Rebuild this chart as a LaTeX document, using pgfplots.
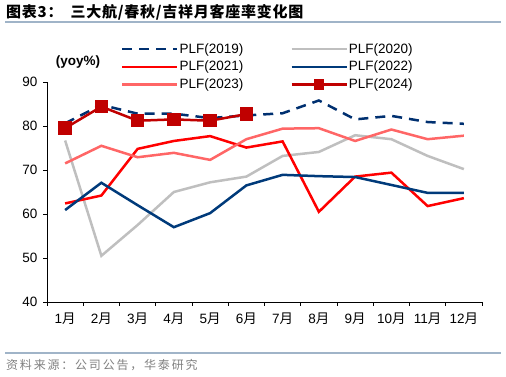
\documentclass[border=0pt]{standalone}
\usepackage{pgfplots}
\pgfplotsset{compat=1.18}
\usepackage{fontspec}
\setmainfont{Liberation Sans}
\newfontfamily\cjk{Noto Sans CJK SC}
\definecolor{c2019}{RGB}{0,48,112}
\definecolor{c2020}{RGB}{191,191,191}
\definecolor{c2021}{RGB}{255,0,0}
\definecolor{c2022}{RGB}{0,58,122}
\definecolor{c2023}{RGB}{255,102,102}
\definecolor{c2024}{RGB}{192,0,0}
\definecolor{rulec}{RGB}{160,180,200}
\begin{document}
\begin{tikzpicture}[x=1pt,y=1pt]
\path[use as bounding box] (0,0) rectangle (506,377);
\node[anchor=west, inner sep=0pt, font=\cjk\bfseries\fontsize{15}{18}\selectfont\addfontfeature{LetterSpace=5}] at (6,365) {图表3：\hspace{8pt}三大航/春秋/吉祥月客座率变化图};
\draw[rulec, line width=1.5pt] (5,355) -- (501,355);
\draw[rulec, line width=1.5pt] (5,24) -- (501,24);
\node[anchor=west, inner sep=0pt, text=gray, font=\cjk\fontsize{12}{14}\selectfont\addfontfeature{LetterSpace=15}] at (6,12) {资料来源：公司公告，华泰研究};
\begin{axis}[
  at={(47pt,75pt)}, anchor=south west,
  scale only axis, width=435pt, height=220pt,
  xmin=0, xmax=12, ymin=40, ymax=90,
  axis lines=left, axis line style={-, black, line width=0.8pt},
  xtick={0,...,12}, x tick label as interval,
  xticklabels={1{\cjk 月},2{\cjk 月},3{\cjk 月},4{\cjk 月},5{\cjk 月},6{\cjk 月},7{\cjk 月},8{\cjk 月},9{\cjk 月},10{\cjk 月},11{\cjk 月},12{\cjk 月}},
  ytick={40,50,...,90},
  tick align=outside, major tick length=4pt,
  tick style={black, line width=0.8pt},
  ticklabel style={font=\fontsize{13.5}{16}\selectfont},
  xticklabel style={yshift=-3pt},
  yticklabel style={xshift=-2pt},
  /pgf/number format/assume math mode=true,
  clip=false,
  legend columns=2,
  legend cell align=left,
  legend style={at={(axis description cs:0.163,1.19)}, anchor=north west, draw=none, fill=none,
    font=\fontsize{13.5}{16}\selectfont, nodes={inner sep=1pt}, row sep=4.5pt,
    /tikz/every even column/.append style={column sep=46pt}},
  legend image code/.code={\draw[mark repeat=2,mark phase=2,#1] plot coordinates {(0pt,0pt) (27.5pt,0pt) (55pt,0pt)};},
]
\addplot[c2019, line width=2.5pt, dash pattern=on 10pt off 7pt] coordinates {(0.5,80.6) (1.5,84.8) (2.5,82.8) (3.5,82.8) (4.5,81.8) (5.5,82.4) (6.5,82.9) (7.5,85.8) (8.5,81.5) (9.5,82.3) (10.5,80.9) (11.5,80.5)};
\addlegendentry{PLF(2019)}
\addplot[c2020, line width=2.5pt] coordinates {(0.5,76.7) (1.5,50.5) (2.5,57.5) (3.5,65.0) (4.5,67.2) (5.5,68.5) (6.5,73.2) (7.5,74.1) (8.5,77.9) (9.5,77.0) (10.5,73.2) (11.5,70.2)};
\addlegendentry{PLF(2020)}
\addplot[c2021, line width=2.5pt] coordinates {(0.5,62.4) (1.5,64.2) (2.5,74.8) (3.5,76.6) (4.5,77.7) (5.5,75.1) (6.5,76.5) (7.5,60.5) (8.5,68.5) (9.5,69.4) (10.5,61.8) (11.5,63.6)};
\addlegendentry{PLF(2021)}
\addplot[c2022, line width=2.5pt] coordinates {(0.5,60.9) (1.5,67.1) (2.5,62.0) (3.5,57.0) (4.5,60.2) (5.5,66.5) (6.5,68.9) (7.5,68.6) (8.5,68.4) (9.5,66.6) (10.5,64.8) (11.5,64.8)};
\addlegendentry{PLF(2022)}
\addplot[c2023, line width=2.5pt] coordinates {(0.5,71.5) (1.5,75.5) (2.5,72.9) (3.5,73.9) (4.5,72.3) (5.5,77.0) (6.5,79.4) (7.5,79.5) (8.5,76.6) (9.5,79.2) (10.5,77.0) (11.5,77.8)};
\addlegendentry{PLF(2023)}
\addplot[c2024, line width=2.5pt, mark=square*, mark size=5.5pt, mark options={solid}, forget plot] coordinates {(0.5,79.5) (1.5,84.4) (2.5,81.2) (3.5,81.5) (4.5,81.2) (5.5,82.7)};
\addlegendimage{c2024, line width=2.5pt, mark=square*, mark size=4pt, mark options={solid}}
\addlegendentry{PLF(2024)}
\node[font=\bfseries\fontsize{13.5}{16}\selectfont] at (axis description cs:0.071,1.09) {(yoy\%)};
\end{axis}
\end{tikzpicture}
\end{document}
